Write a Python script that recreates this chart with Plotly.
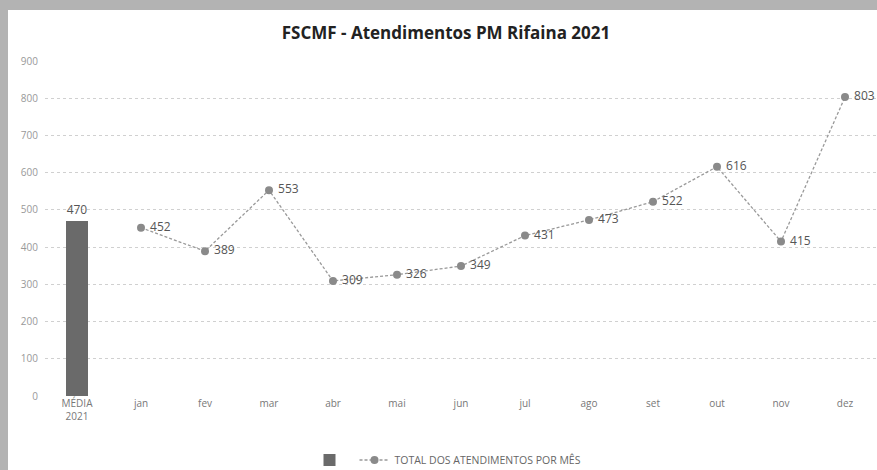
import plotly.graph_objects as go

categories = ["MÉDIA<br>2021", "jan", "fev", "mar", "abr", "mai", "jun", "jul", "ago", "set", "out", "nov", "dez"]
media_label = ["MÉDIA<br>2021"]
media_value = [470]
months = ["jan", "fev", "mar", "abr", "mai", "jun", "jul", "ago", "set", "out", "nov", "dez"]
monthly_totals = [452, 389, 553, 309, 326, 349, 431, 473, 522, 616, 415, 803]
y_ticks = [0, 100, 200, 300, 400, 500, 600, 700, 800, 900]

fig = go.Figure()
fig.add_trace(go.Bar(
    x=media_label, y=media_value, name="", width=0.33,
    marker=dict(color="#6a6a6a", line=dict(width=0)),
    text=[str(v) for v in media_value], textposition="outside",
    textfont=dict(family="Open Sans", size=12, color="#555555"),
    cliponaxis=False, showlegend=True,
))
fig.add_trace(go.Scatter(
    x=months, y=monthly_totals, name="TOTAL DOS ATENDIMENTOS POR MÊS",
    mode="lines+markers+text",
    line=dict(color="#999999", width=1.3, dash="3px,2px"),
    marker=dict(color="#8a8a8a", size=8),
    text=[" " + str(v) for v in monthly_totals], textposition="middle right",
    textfont=dict(family="Open Sans", size=12, color="#555555"),
    cliponaxis=False,
))

fig.update_layout(
    width=877, height=470,
    margin=dict(l=45, r=0, t=61, b=74, autoexpand=False),
    paper_bgcolor="#b3b3b3", plot_bgcolor="rgba(0,0,0,0)",
    title=dict(text="<b>FSCMF - Atendimentos PM Rifaina 2021</b>", x=446 / 877, xanchor="center",
               y=1 - 33 / 470, yanchor="middle",
               font=dict(family="Open Sans", size=17, color="#222222")),
    shapes=[dict(type="rect", xref="paper", yref="paper", layer="below",
                 x0=(8 - 45) / 832, x1=1.01, y0=-0.25, y1=(396 - 10) / 335,
                 fillcolor="white", line=dict(width=0))],
    xaxis=dict(categoryorder="array", categoryarray=categories, showgrid=False,
               tickfont=dict(family="Open Sans", size=10, color="#777777"),
               showline=False, ticks="", range=[-0.5, 12.5]),
    yaxis=dict(range=[0, 900], tickvals=y_ticks, showgrid=True, gridcolor="#d0d0d0",
               griddash="dot", gridwidth=1, zeroline=False,
               tickfont=dict(family="Open Sans", size=10, color="#999999"),
               ticks="", ticklen=0, ticklabelstandoff=6),
    legend=dict(orientation="h", x=(448 - 45) / 832, xanchor="center", y=(396 - 460) / 335, yanchor="middle",
                font=dict(family="Open Sans", size=10.5, color="#666666"), bgcolor="rgba(0,0,0,0)"),
    showlegend=True,
    bargap=0,
)
fig.write_html("out.html", config={"displayModeBar": False},
               post_script="document.body.style.margin='0';document.body.style.overflow='hidden';document.body.style.background='#b3b3b3';")
